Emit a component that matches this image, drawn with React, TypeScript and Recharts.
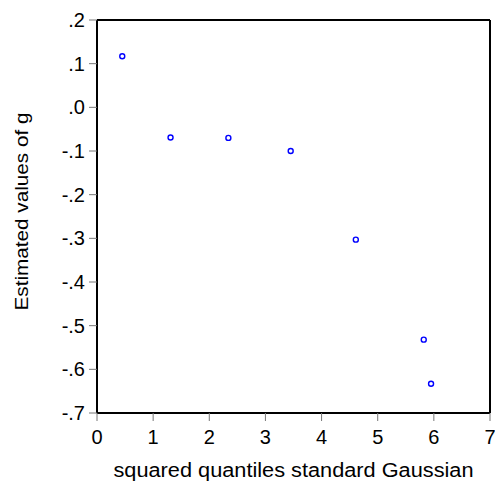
import { ScatterChart, Scatter, XAxis, YAxis, ReferenceLine } from 'recharts'

// squared quantiles of the standard Gaussian vs estimated g
const quantiles = [0.45, 1.31, 2.34, 3.45, 4.61, 5.82, 5.95]
const gValues = [0.117, -0.069, -0.07, -0.1, -0.303, -0.532, -0.633]
const xTicks = [0, 1, 2, 3, 4, 5, 6, 7]
const yTicks = [0.2, 0.1, 0, -0.1, -0.2, -0.3, -0.4, -0.5, -0.6, -0.7]

const xTitle = 'squared quantiles standard Gaussian'
const yTitle = 'Estimated values of g'

const points = quantiles.map((q, i) => ({ x: q, y: gValues[i] }))

const fmtY = (v: number) => v.toFixed(1).replace('0.', '.')

const font = 'Arial, "Liberation Sans", sans-serif'

const XTitle = ({ viewBox }: any) => {
  const cx = viewBox.x + viewBox.width / 2
  const y = viewBox.y + viewBox.height + 24
  return (
    <text x={cx} y={y} textAnchor="middle" fontSize={20} fontFamily={font} fill="#000" textLength={360} lengthAdjust="spacingAndGlyphs">
      {xTitle}
    </text>
  )
}

const YTitle = ({ viewBox }: any) => {
  const x = viewBox.x - 9
  const cy = viewBox.y + viewBox.height / 2 - 5
  return (
    <text x={x} y={cy} transform={`rotate(-90, ${x}, ${cy})`} textAnchor="middle" fontSize={19} fontFamily={font} fill="#000" textLength={198} lengthAdjust="spacingAndGlyphs">
      {yTitle}
    </text>
  )
}

export default function App() {
  return (
    <div style={{ position: 'absolute', left: 0, top: 0, width: 495, height: 486, background: '#fff', fontFamily: font }}>
      <ScatterChart width={495} height={486} margin={{ top: 20, right: 5, left: 37, bottom: 33 }}>
        <XAxis
          type="number"
          dataKey="x"
          domain={[0, 7]}
          ticks={xTicks}
          interval={0}
          axisLine={{ stroke: '#000', strokeWidth: 2 }}
          tickLine={{ stroke: '#777' }}
          tickSize={8}
          tickMargin={9}
          tick={{ fill: '#000', fontSize: 20, fontFamily: font }}
          height={40}
          label={<XTitle />}
        />
        <YAxis
          type="number"
          dataKey="y"
          domain={[-0.7, 0.2]}
          ticks={yTicks}
          interval={0}
          tickFormatter={fmtY}
          axisLine={{ stroke: '#000', strokeWidth: 2 }}
          tickLine={{ stroke: '#777' }}
          tickSize={8}
          tickMargin={4}
          tick={{ fill: '#000', fontSize: 20, fontFamily: font }}
          width={60}
          label={<YTitle />}
        />
        <ReferenceLine y={0.2} stroke="#000" strokeWidth={2} />
        <ReferenceLine x={7} stroke="#000" strokeWidth={2} />
        <Scatter
          data={points}
          isAnimationActive={false}
          shape={(p: any) => <circle cx={p.cx} cy={p.cy} r={2.5} fill="#fff" stroke="#0000ff" strokeWidth={1.4} />}
        />
      </ScatterChart>
    </div>
  )
}
